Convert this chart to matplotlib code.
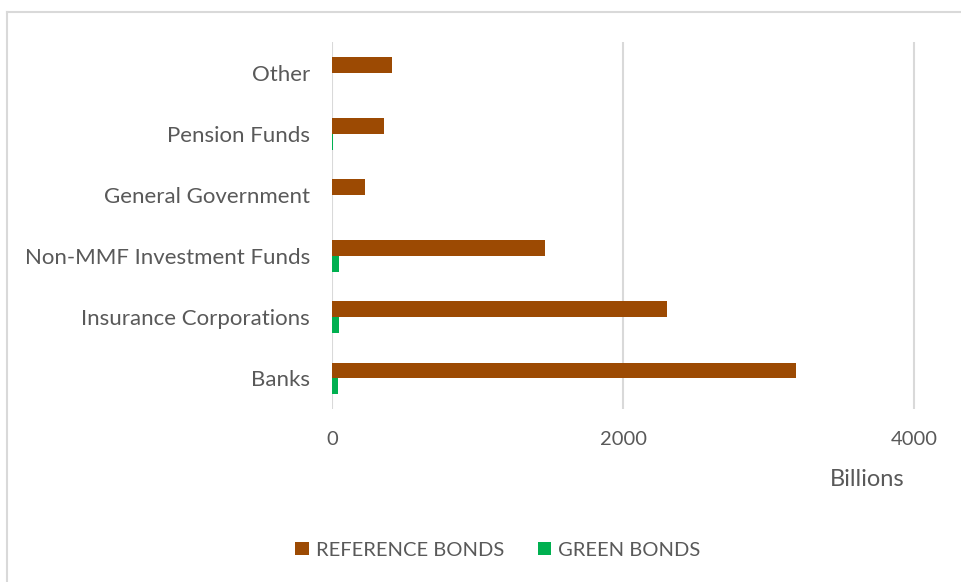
import matplotlib.pyplot as plt
from matplotlib.lines import Line2D
import numpy as np

# holders of bonds, bottom to top
categories = ['Banks', 'Insurance Corporations', 'Non-MMF Investment Funds',
              'General Government', 'Pension Funds', 'Other']
reference_bonds = [3189, 2299, 1460, 229, 360, 415]
green_bonds = [43, 50, 50, 0, 10, 0]
x_ticks = [0, 2000, 4000]

BROWN = '#9C4A03'
GREEN = '#00B050'
GREY_TXT = '#595959'
GRID = '#D9D9D9'

plt.rcParams['font.family'] = ['Lato', 'DejaVu Sans']

fig = plt.figure(figsize=(9.61, 5.82), dpi=100)
ax = fig.add_axes([332 / 961, 1 - 409 / 582, 1 - 332 / 961, 367 / 582])

y = np.arange(len(categories))
h = 0.26
ax.barh(y + 0.13, reference_bonds, height=h, color=BROWN, label='REFERENCE BONDS')
ax.barh(y - 0.13, green_bonds, height=h, color=GREEN, label='GREEN BONDS')

ax.set_xlim(0, 4320)
ax.set_ylim(-0.5, len(categories) - 0.5)
ax.set_xticks(x_ticks)
ax.set_yticks(y)
ax.set_yticklabels(categories)
ax.tick_params(axis='y', length=0, pad=16, labelsize=16, labelcolor=GREY_TXT)
ax.tick_params(axis='x', length=0, pad=16, labelsize=14.5, labelcolor=GREY_TXT)
ax.grid(axis='x', color=GRID, linewidth=1.5)
ax.set_axisbelow(True)
for s in ax.spines.values():
    s.set_visible(False)

fig.text(867 / 961, 1 - 480 / 582, 'Billions', ha='center', va='center',
         fontsize=17, color=GREY_TXT)

fig.legend(loc='center', bbox_to_anchor=(498 / 961, 1 - 550 / 582), ncol=2,
           frameon=False, fontsize=14.5, handlelength=0.65, handleheight=0.65,
           handletextpad=0.35, columnspacing=1.7, labelcolor=GREY_TXT)

# outer chart frame
fig.add_artist(Line2D([7 / 961, 7 / 961], [0, 1 - 12 / 582], transform=fig.transFigure,
                      color=GRID, linewidth=1.5))
fig.add_artist(Line2D([7 / 961, 1], [1 - 12 / 582, 1 - 12 / 582], transform=fig.transFigure,
                      color=GRID, linewidth=1.5))

fig.savefig('out.png', dpi=100)
